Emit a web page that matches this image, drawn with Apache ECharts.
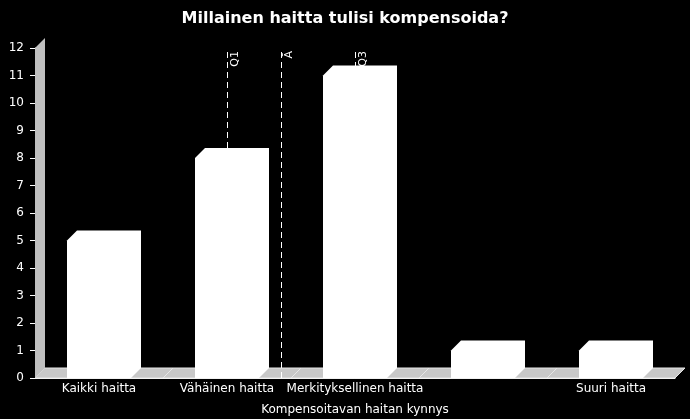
<!DOCTYPE html>
<html>
<head>
<meta charset="utf-8">
<script src="https://cdn.jsdelivr.net/npm/echarts@6/dist/echarts.min.js"></script>
<style>
  html, body { margin: 0; padding: 0; background: #000; }
  #chart { width: 690px; height: 419px; }
</style>
</head>
<body>
<div id="chart"></div>
<script>
// data
var categories = ['Kaikki haitta', 'Vähäinen haitta', 'Merkityksellinen haitta', '', 'Suuri haitta'];
var counts = [5, 8, 11, 1, 1];
// statistic markers on a 1..5 scale (category centers)
var markerNames = ['Q1', 'Ā', 'Q3'];
var markerValues = [2, 2.42, 3];
var yTicks = [0, 12, 1]; // min, max, interval

var depth = 10; // pseudo 3d offset

var chart = echarts.init(document.getElementById('chart'));

function floorItem(params, api) {
    var i = api.value(0);
    var p = api.coord([i, 0]);
    var bw = api.size([1, 0])[0];
    var x0 = p[0] - bw / 2, x1 = p[0] + bw / 2, y0 = p[1];
    var children = [{
        type: 'polygon',
        shape: { points: [[x0, y0], [x1, y0], [x1 + depth, y0 - depth], [x0 + depth, y0 - depth]] },
        style: { fill: '#c8c8c8', stroke: '#e6e6e6', lineWidth: 1 }
    }];
    if (i === 0) {
        var top = api.coord([i, yTicks[1]])[1];
        children.push({
            type: 'polygon',
            shape: { points: [[x0, y0], [x0, top], [x0 + depth, top - depth], [x0 + depth, y0 - depth]] },
            style: { fill: '#c0c0c0' }
        });
    }
    return { type: 'group', children: children };
}

function barItem(params, api) {
    var i = api.value(0);
    var v = api.value(1);
    var p0 = api.coord([i, 0]);
    var p1 = api.coord([i, v]);
    var half = api.size([1, 0])[0] * 0.25;
    var xl = p0[0] - half, xr = p0[0] + half;
    return {
        type: 'polygon',
        shape: { points: [
            [xl, p0[1]], [xl, p1[1]], [xl + depth, p1[1] - depth],
            [xr + depth, p1[1] - depth], [xr + depth, p0[1] - depth], [xr, p0[1]]
        ] },
        style: { fill: '#ffffff' }
    };
}

var markData = [];
for (var k = 0; k < markerNames.length; k++) {
    markData.push([
        { coord: [markerValues[k], 0], name: markerNames[k] },
        { coord: [markerValues[k], yTicks[1]] }
    ]);
}

chart.setOption({
    backgroundColor: '#000',
    animation: false,
    textStyle: { fontFamily: 'DejaVu Sans' },
    title: {
        text: 'Millainen haitta tulisi kompensoida?',
        left: 'center',
        top: 6,
        textStyle: { color: '#fff', fontSize: 16, fontWeight: 'bold', fontFamily: 'DejaVu Sans' }
    },
    grid: { left: 35, right: 15, top: 48, bottom: 41, outerBoundsMode: 'none', containLabel: false },
    xAxis: [{
        type: 'category',
        data: categories,
        name: 'Kompensoitavan haitan kynnys',
        nameLocation: 'middle',
        nameGap: 26,
        nameTextStyle: { color: '#fff', fontSize: 12 },
        axisLine: { lineStyle: { color: '#fff' } },
        axisTick: { length: 5, lineStyle: { color: '#fff' } },
        axisLabel: { color: '#fff', fontSize: 12, margin: 5, interval: 0 }
    }, {
        type: 'value',
        min: 0.5,
        max: 5.5,
        show: false
    }],
    yAxis: {
        type: 'value',
        min: yTicks[0],
        max: yTicks[1],
        interval: yTicks[2],
        splitLine: { show: false },
        axisLine: { show: true, lineStyle: { color: '#fff' } },
        axisTick: { show: true, length: 5, lineStyle: { color: '#fff' } },
        axisLabel: { color: '#fff', fontSize: 12, margin: 11 }
    },
    series: [{
        type: 'custom',
        renderItem: floorItem,
        data: categories.map(function (c, i) { return [i]; }),
        z: 1,
        silent: true
    }, {
        type: 'line',
        xAxisIndex: 1,
        data: [],
        z: 2,
        markLine: {
            silent: true,
            symbol: 'none',
            lineStyle: { color: '#fff', type: [6, 4], width: 1 },
            label: {
                show: true,
                position: 'insideEndBottom',
                formatter: '{b}',
                color: '#fff',
                fontSize: 11,
                distance: 3
            },
            data: markData
        }
    }, {
        type: 'custom',
        renderItem: barItem,
        data: counts.map(function (v, i) { return [i, v]; }),
        z: 3
    }]
});
</script>
</body>
</html>
